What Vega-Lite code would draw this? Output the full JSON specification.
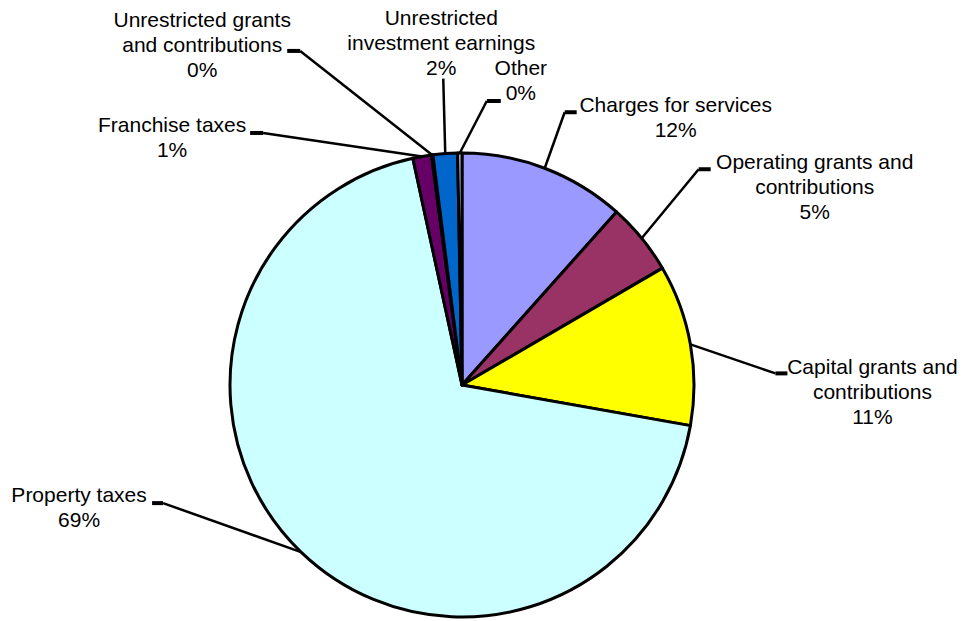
{
  "$schema": "https://vega.github.io/schema/vega-lite/v6.json",
  "width": 700,
  "height": 464,
  "padding": {"left": 112, "top": 153, "right": 155, "bottom": 4},
  "autosize": {"type": "none"},
  "background": "white",
  "config": {"view": {"stroke": null}},
  "data": {
    "values": [
      {"category": "Charges for services", "name": "Charges for services", "share": 11.6, "order": 1},
      {"category": "Operating grants and contributions", "name": "Operating grants and\ncontributions", "share": 5.0, "order": 2},
      {"category": "Capital grants and contributions", "name": "Capital grants and\ncontributions", "share": 11.2, "order": 3},
      {"category": "Property taxes", "name": "Property taxes", "share": 68.8, "order": 4},
      {"category": "Franchise taxes", "name": "Franchise taxes", "share": 1.3, "order": 5},
      {"category": "Unrestricted grants and contributions", "name": "Unrestricted grants\nand contributions", "share": 0.1, "order": 6},
      {"category": "Unrestricted investment earnings", "name": "Unrestricted\ninvestment earnings", "share": 1.7, "order": 7},
      {"category": "Other", "name": "Other", "share": 0.3, "order": 8}
    ]
  },
  "transform": [
    {"window": [{"op": "sum", "field": "share", "as": "cum_end"}], "sort": [{"field": "order"}], "frame": [null, 0]},
    {"calculate": "datum.cum_end - datum.share", "as": "cum_start"},
    {"calculate": "(datum.cum_start + datum.cum_end) / 2", "as": "mid"},
    {"calculate": "232 * sin(2 * PI * datum.mid / 100)", "as": "ex"},
    {"calculate": "-232 * cos(2 * PI * datum.mid / 100)", "as": "ey"},
    {"calculate": "datum.ex + [20, 57, 85, -138, -159, -132, -2, 27][datum.order - 1]", "as": "kx"},
    {"calculate": "datum.ey + [-56, -69, 29, -49, -23.5, -104, -75, -52][datum.order - 1]", "as": "ky"},
    {"calculate": "datum.kx + [12, 12, 12, -11, -13, -13, 0, 14][datum.order - 1]", "as": "hx"},
    {"calculate": "datum.ex + [131, 173, 182, -222, -250, -230, -4, 61][datum.order - 1]", "as": "tx"},
    {"calculate": "datum.ey + [-62, -75, 24, -56, -30, -134, -135, -84][datum.order - 1]", "as": "ty"},
    {"calculate": "datum.name + '\\n' + format(datum.share / 100, '.0%')", "as": "label"}
  ],
  "layer": [
    {
      "mark": {"type": "arc", "outerRadius": 232, "stroke": "black", "strokeWidth": 3, "strokeJoin": "round"},
      "encoding": {
        "theta": {"field": "cum_start", "type": "quantitative", "scale": {"domain": [0, 100]}},
        "theta2": {"field": "cum_end"},
        "color": {
          "field": "category",
          "type": "nominal",
          "legend": null,
          "scale": {
            "domain": ["Charges for services", "Operating grants and contributions", "Capital grants and contributions", "Property taxes", "Franchise taxes", "Unrestricted grants and contributions", "Unrestricted investment earnings", "Other"],
            "range": ["#9999FF", "#993366", "#FFFF00", "#CCFFFF", "#660066", "#FF8080", "#0066CC", "#CCCCFF"]
          }
        }
      }
    },
    {
      "mark": {"type": "rule", "color": "black", "strokeWidth": 2.5},
      "encoding": {
        "x": {"field": "ex", "type": "quantitative", "scale": {"domain": [-350, 350], "nice": false, "zero": false}, "axis": null},
        "y": {"field": "ey", "type": "quantitative", "scale": {"domain": [-232, 232], "reverse": true, "nice": false, "zero": false}, "axis": null},
        "x2": {"field": "kx"},
        "y2": {"field": "ky"}
      }
    },
    {
      "mark": {"type": "rule", "color": "black", "strokeWidth": 4, "strokeCap": "butt"},
      "encoding": {
        "x": {"field": "kx", "type": "quantitative", "scale": {"domain": [-350, 350], "nice": false, "zero": false}, "axis": null},
        "x2": {"field": "hx"},
        "y": {"field": "ky", "type": "quantitative", "scale": {"domain": [-232, 232], "reverse": true, "nice": false, "zero": false}, "axis": null}
      }
    },
    {
      "mark": {"type": "text", "align": "center", "baseline": "middle", "lineBreak": "\n", "lineHeight": 25, "font": "Liberation Sans", "fontSize": 21, "color": "black"},
      "encoding": {
        "x": {"field": "tx", "type": "quantitative", "scale": {"domain": [-350, 350], "nice": false, "zero": false}, "axis": null},
        "y": {"field": "ty", "type": "quantitative", "scale": {"domain": [-232, 232], "reverse": true, "nice": false, "zero": false}, "axis": null},
        "text": {"field": "label"}
      }
    }
  ]
}
